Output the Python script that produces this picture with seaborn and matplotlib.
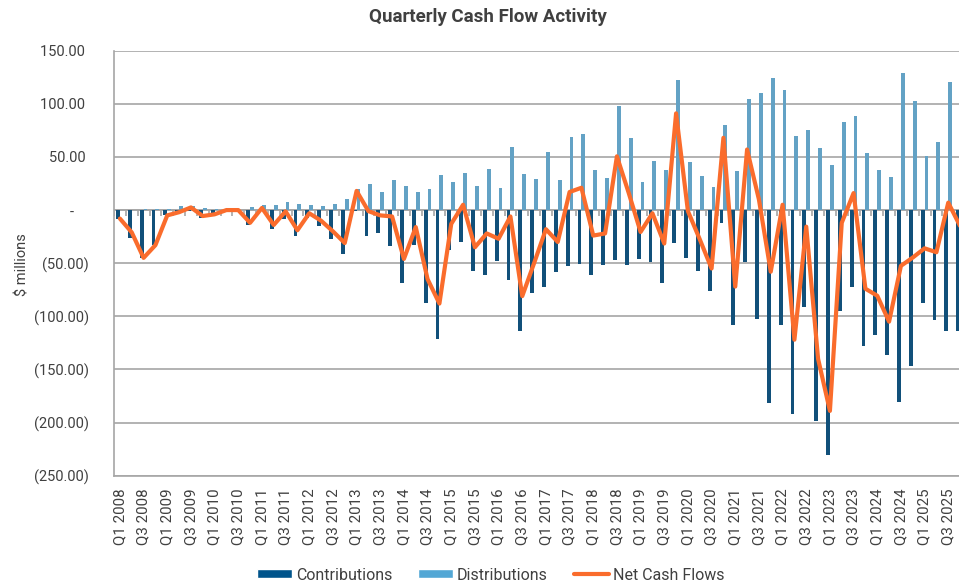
import numpy as np
import pandas as pd
import matplotlib
matplotlib.use("Agg")
import matplotlib.pyplot as plt
import seaborn as sns
from matplotlib.ticker import FuncFormatter
from matplotlib.patches import Patch
from matplotlib.lines import Line2D

# ====================== DATA ($ millions) ======================
quarters = [f"Q{q} {y}" for y in range(2008, 2026) for q in range(1, 5)]

contributions = [
    -8.75, -26, -45, -33, -5, -3, -1.2, -7, -3, -1, 0, -14, -1, -18, -8.75, -24, -7, -15,
    -27, -41.5, -1, -24, -22, -34, -69, -33, -87, -121, -38, -30, -57.5, -61, -48, -66, -114, -78,
    -72, -58, -52.5, -51, -61, -52, -47, -51.5, -45.6, -49, -69, -30.6, -44.7, -57.5, -76, -12, -108,
    -48.4, -102.5, -181.6, -107.8, -191.6, -91.6, -198.4, -230.6, -94.7, -72.8, -128, -117.5, -136,
    -181, -147, -87.5, -103.8, -114, -114,
]

distributions = [
    0, 0.5, 1.2, 1.2, 1.2, 3.4, 4, 1.5, 1.2, 0.5, 0, 2.5, 4.4, 4.4, 7.8, 5.6, 4.5, 3.4,
    6, 10, 20, 25, 17, 28, 22.5, 17, 20, 33, 26, 35, 22.5, 39, 21, 59, 34, 29,
    54.7, 28, 69, 72, 37.5, 30.6, 98, 68, 26, 46, 38, 122.5, 45, 32, 21.5, 80, 36.5,
    104.7, 110.6, 124, 113, 70, 75, 58, 42, 83, 89, 54, 38, 31.5, 129, 103, 51, 64, 121, 99,
]

net_cash_flows = [
    -8, -21, -45, -33, -5, -2, 2.5, -5.6, -4, 0, 0, -12, 2, -14, -1.2, -19, -3, -10,
    -20, -31, 18, -1, -5, -6, -46, -16, -65, -88, -13, 5, -35, -22, -27, -6, -81, -50,
    -18, -30, 17, 21, -24, -22, 50.6, 16, -20.6, -3, -31.5, 91, -1, -27.5, -55, 68, -72,
    57, 10, -58, 5, -122, -15.6, -140, -189, -12, 16, -74, -80.6, -105, -52.5, -44.7,
    -36, -39.7, 7, -15,
]

series_names = ["Contributions", "Distributions", "Net Cash Flows"]
y_ticks = [-250, -200, -150, -100, -50, 0, 50, 100, 150]

DARK = "#00548B"
LIGHT = "#53A7D5"
ORANGE = "#FA6C2C"
GRID = "#A6A6A6"
TEXT = "#404040"

# ====================== FIGURE ======================
sns.set_style("white")
plt.rcParams["font.family"] = ["Roboto", "DejaVu Sans"]

fig = plt.figure(figsize=(9.59, 5.85), dpi=100)
ax = fig.add_axes([114 / 959, 1 - 475.7 / 585, 852 / 959, 425 / 585])

bars = pd.DataFrame({
    "quarter": quarters * 2,
    "value": contributions + distributions,
    "series": [series_names[0]] * len(quarters) + [series_names[1]] * len(quarters),
})
sns.barplot(data=bars, x="quarter", y="value", hue="series",
            palette=[DARK, LIGHT], width=0.64, linewidth=0,
            errorbar=None, legend=False, ax=ax, zorder=2)

# category axis crossing at zero, with tick marks between quarters
edges = np.arange(len(quarters) + 1) - 0.5
ax.plot(edges, np.zeros_like(edges), color=GRID, lw=1.2, marker=3,
        ms=4, mew=1.2, zorder=1.5)

sns.lineplot(x=np.arange(len(quarters)), y=net_cash_flows, color=ORANGE,
             linewidth=3, ax=ax, zorder=3)

ax.set_xlim(-0.5, len(quarters) - 0.5)
ax.set_ylim(-250, 150)
ax.set_yticks(y_ticks)


def acct(v, pos):
    if v == 0:
        return "-    "
    if v < 0:
        return f"({abs(v):,.2f})"
    return f"{v:,.2f} "


ax.yaxis.set_major_formatter(FuncFormatter(acct))
ax.set_xticks(range(0, len(quarters), 2))
ax.set_xticklabels(quarters[::2], rotation=90)
ax.tick_params(axis="x", length=0, pad=9, labelsize=10.8, labelcolor=TEXT)
ax.tick_params(axis="y", length=0, pad=18, labelsize=10.5, labelcolor=TEXT)
ax.set_xlabel("")
ax.set_ylabel("")

ax.grid(axis="y", color=GRID, lw=1.2)
ax.set_axisbelow(True)
for side in ["top", "right"]:
    ax.spines[side].set_visible(False)
for side in ["left", "bottom"]:
    ax.spines[side].set_color(GRID)
    ax.spines[side].set_linewidth(1.2)

fig.text(0.509, 1 - 17 / 585, "Quarterly Cash Flow Activity", ha="center", va="center",
         fontsize=13.5, fontweight="bold", color=TEXT)
fig.text(22 / 959, 1 - 265 / 585, "$ millions", ha="center", va="center",
         rotation=90, fontsize=10.5, color=TEXT)

handles = [Patch(facecolor=DARK), Patch(facecolor=LIGHT),
           Line2D([0], [0], color=ORANGE, lw=3)]
fig.legend(handles, series_names, loc="center", bbox_to_anchor=(0.5115, 1 - 575 / 585),
           ncol=3, frameon=False, fontsize=11.5, handlelength=2.2, handleheight=0.5,
           handletextpad=0.25, columnspacing=1.6, labelcolor=TEXT)

fig.savefig("out.png", dpi=100)
